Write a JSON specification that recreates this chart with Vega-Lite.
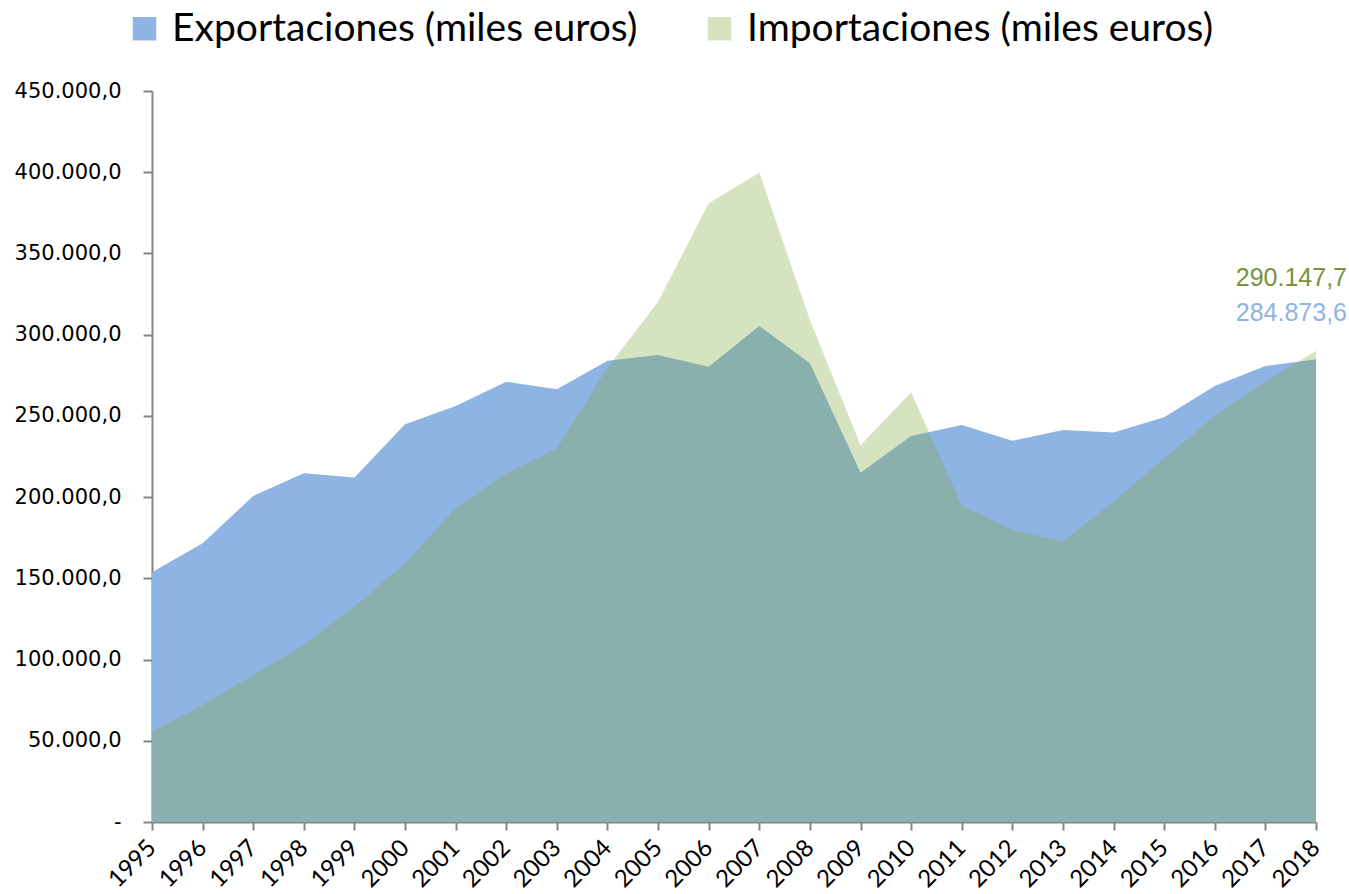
{
  "$schema": "https://vega.github.io/schema/vega-lite/v6.json",
  "width": 1164,
  "height": 731,
  "autosize": {"type": "none"},
  "padding": {"left": 152, "top": 91, "right": 33, "bottom": 72},
  "config": {
    "locale": {"number": {"decimal": ",", "thousands": ".", "grouping": [3], "currency": ["", " €"]}},
    "view": {"stroke": null}
  },
  "data": {
    "values": [
      {"anio": 1995, "serie": "Exportaciones (miles euros)", "valor": 153700},
      {"anio": 1996, "serie": "Exportaciones (miles euros)", "valor": 171600},
      {"anio": 1997, "serie": "Exportaciones (miles euros)", "valor": 200700},
      {"anio": 1998, "serie": "Exportaciones (miles euros)", "valor": 214700},
      {"anio": 1999, "serie": "Exportaciones (miles euros)", "valor": 212000},
      {"anio": 2000, "serie": "Exportaciones (miles euros)", "valor": 244800},
      {"anio": 2001, "serie": "Exportaciones (miles euros)", "valor": 256100},
      {"anio": 2002, "serie": "Exportaciones (miles euros)", "valor": 271000},
      {"anio": 2003, "serie": "Exportaciones (miles euros)", "valor": 266400},
      {"anio": 2004, "serie": "Exportaciones (miles euros)", "valor": 284000},
      {"anio": 2005, "serie": "Exportaciones (miles euros)", "valor": 287500},
      {"anio": 2006, "serie": "Exportaciones (miles euros)", "valor": 280300},
      {"anio": 2007, "serie": "Exportaciones (miles euros)", "valor": 305300},
      {"anio": 2008, "serie": "Exportaciones (miles euros)", "valor": 282400},
      {"anio": 2009, "serie": "Exportaciones (miles euros)", "valor": 215000},
      {"anio": 2010, "serie": "Exportaciones (miles euros)", "valor": 237600},
      {"anio": 2011, "serie": "Exportaciones (miles euros)", "valor": 244400},
      {"anio": 2012, "serie": "Exportaciones (miles euros)", "valor": 234700},
      {"anio": 2013, "serie": "Exportaciones (miles euros)", "valor": 241300},
      {"anio": 2014, "serie": "Exportaciones (miles euros)", "valor": 239700},
      {"anio": 2015, "serie": "Exportaciones (miles euros)", "valor": 249100},
      {"anio": 2016, "serie": "Exportaciones (miles euros)", "valor": 268400},
      {"anio": 2017, "serie": "Exportaciones (miles euros)", "valor": 280700},
      {"anio": 2018, "serie": "Exportaciones (miles euros)", "valor": 284873.6},
      {"anio": 1995, "serie": "Importaciones (miles euros)", "valor": 55600},
      {"anio": 1996, "serie": "Importaciones (miles euros)", "valor": 72000},
      {"anio": 1997, "serie": "Importaciones (miles euros)", "valor": 90500},
      {"anio": 1998, "serie": "Importaciones (miles euros)", "valor": 109000},
      {"anio": 1999, "serie": "Importaciones (miles euros)", "valor": 132600},
      {"anio": 2000, "serie": "Importaciones (miles euros)", "valor": 159300},
      {"anio": 2001, "serie": "Importaciones (miles euros)", "valor": 193100},
      {"anio": 2002, "serie": "Importaciones (miles euros)", "valor": 214700},
      {"anio": 2003, "serie": "Importaciones (miles euros)", "valor": 230000},
      {"anio": 2004, "serie": "Importaciones (miles euros)", "valor": 279700},
      {"anio": 2005, "serie": "Importaciones (miles euros)", "valor": 320200},
      {"anio": 2006, "serie": "Importaciones (miles euros)", "valor": 380900},
      {"anio": 2007, "serie": "Importaciones (miles euros)", "valor": 399700},
      {"anio": 2008, "serie": "Importaciones (miles euros)", "valor": 309000},
      {"anio": 2009, "serie": "Importaciones (miles euros)", "valor": 232000},
      {"anio": 2010, "serie": "Importaciones (miles euros)", "valor": 264500},
      {"anio": 2011, "serie": "Importaciones (miles euros)", "valor": 194700},
      {"anio": 2012, "serie": "Importaciones (miles euros)", "valor": 179800},
      {"anio": 2013, "serie": "Importaciones (miles euros)", "valor": 172600},
      {"anio": 2014, "serie": "Importaciones (miles euros)", "valor": 197200},
      {"anio": 2015, "serie": "Importaciones (miles euros)", "valor": 223900},
      {"anio": 2016, "serie": "Importaciones (miles euros)", "valor": 249900},
      {"anio": 2017, "serie": "Importaciones (miles euros)", "valor": 271000},
      {"anio": 2018, "serie": "Importaciones (miles euros)", "valor": 290147.7}
    ]
  },
  "layer": [
    {
      "mark": {"type": "area", "interpolate": "linear"},
      "encoding": {
        "x": {
          "field": "anio", "type": "ordinal",
          "scale": {"type": "point", "padding": 0},
          "axis": {
            "title": null, "labelAngle": -45, "labelAlign": "right", "labelBaseline": "middle",
            "labelFont": "Lato", "labelFontSize": 24, "labelColor": "#000000", "labelPadding": 14,
            "tickSize": 8, "tickWidth": 2, "tickColor": "#868686",
            "domainColor": "#868686", "domainWidth": 2, "grid": false
          }
        },
        "y": {
          "field": "valor", "type": "quantitative", "stack": null,
          "scale": {"domain": [0, 450000], "nice": false},
          "axis": {
            "title": null,
            "values": [0, 50000, 100000, 150000, 200000, 250000, 300000, 350000, 400000, 450000],
            "format": ",.1f",
            "labelExpr": "datum.value === 0 ? '-' : datum.label",
            "labelFont": "DejaVu Sans", "labelFontSize": 21, "labelColor": "#000000", "labelPadding": 22,
            "tickSize": 9, "tickWidth": 2, "tickColor": "#868686",
            "domainColor": "#868686", "domainWidth": 2, "grid": false
          }
        },
        "color": {
          "field": "serie", "type": "nominal",
          "scale": {"domain": ["Exportaciones (miles euros)", "Importaciones (miles euros)"], "range": ["#8EB4E3", "#7FA83A"]},
          "legend": {
            "orient": "none", "legendX": -27, "legendY": -82, "direction": "horizontal", "title": null,
            "symbolType": "square", "symbolSize": 550, "symbolStrokeWidth": 0,
            "labelFont": "Lato", "labelFontSize": 39, "labelColor": "#000000", "labelLimit": 700,
            "columnPadding": 62, "labelOffset": 8
          }
        },
        "opacity": {
          "field": "serie", "type": "nominal",
          "scale": {"domain": ["Exportaciones (miles euros)", "Importaciones (miles euros)"], "range": [1, 0.32]}
        }
      }
    },
    {
      "transform": [{"filter": "datum.anio == 2018 && datum.serie == 'Importaciones (miles euros)'"}],
      "mark": {"type": "text", "align": "right", "baseline": "middle", "dx": 31, "dy": -73, "font": "Liberation Sans", "fontSize": 25, "color": "#77933C"},
      "encoding": {
        "x": {"field": "anio", "type": "ordinal"},
        "y": {"field": "valor", "type": "quantitative"},
        "text": {"field": "valor", "type": "quantitative", "format": ",.1f"}
      }
    },
    {
      "transform": [{"filter": "datum.anio == 2018 && datum.serie == 'Exportaciones (miles euros)'"}],
      "mark": {"type": "text", "align": "right", "baseline": "middle", "dx": 31, "dy": -46, "font": "Liberation Sans", "fontSize": 25, "color": "#8EB4E3"},
      "encoding": {
        "x": {"field": "anio", "type": "ordinal"},
        "y": {"field": "valor", "type": "quantitative"},
        "text": {"field": "valor", "type": "quantitative", "format": ",.1f"}
      }
    }
  ]
}
